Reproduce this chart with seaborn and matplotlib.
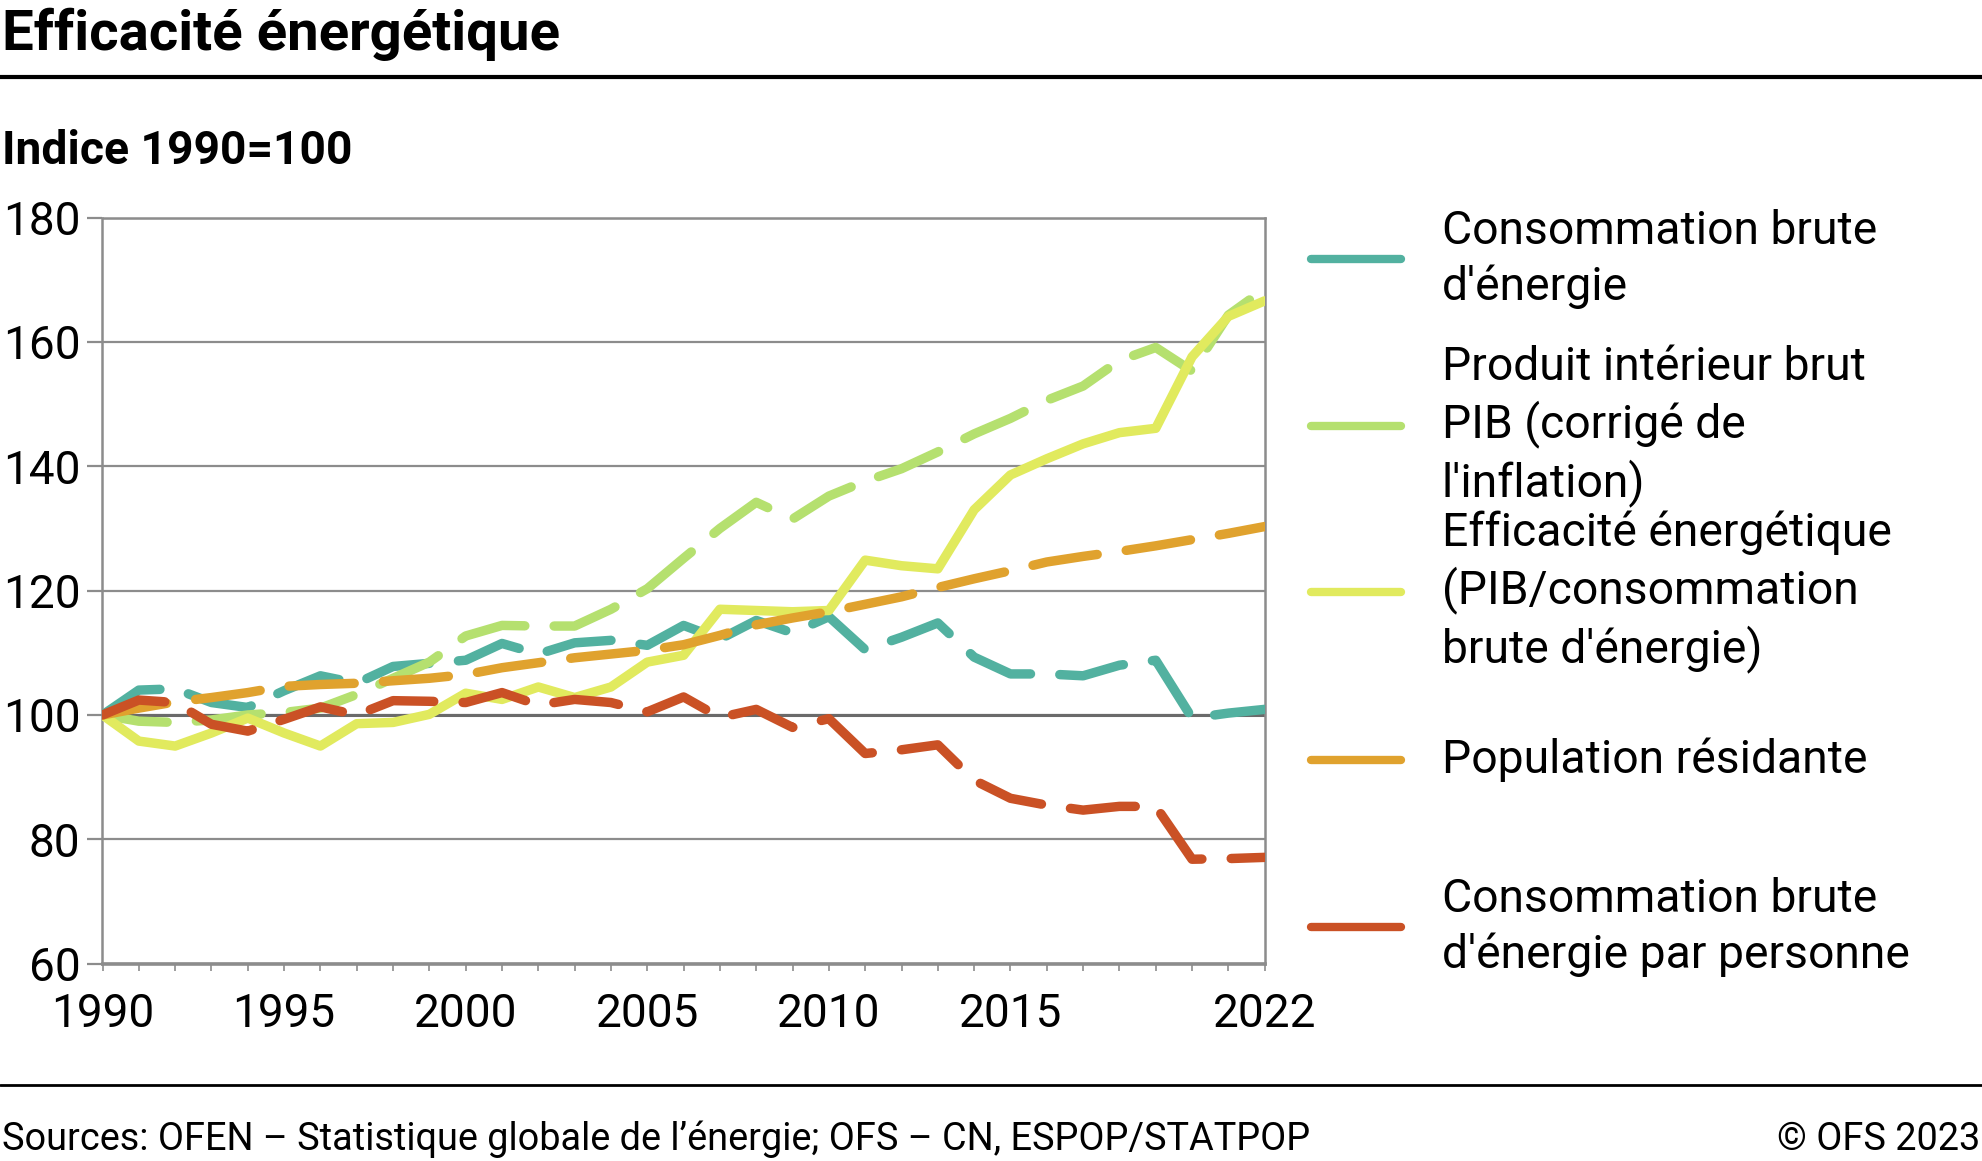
import numpy as np
import pandas as pd
import matplotlib
matplotlib.use("Agg")
import matplotlib.pyplot as plt
import seaborn as sns
from matplotlib.lines import Line2D
from matplotlib.ticker import FixedLocator, MultipleLocator

# values (index 1990 = 100)
years = list(range(1990, 2023))
conso = [100.0, 104.0, 104.2, 102.0, 101.2, 103.9, 106.3, 105.1, 107.8, 108.3,
         108.8, 111.5, 109.8, 111.6, 112.0, 111.2, 114.4, 112.2, 115.2, 113.2,
         115.8, 110.5, 112.5, 114.8, 109.3, 106.6, 106.6, 106.3, 108.0, 108.8,
         99.5, 100.3, 100.9]
pib = [100.0, 99.0, 98.8, 99.2, 100.0, 100.4, 101.1, 103.3, 105.9, 108.5,
       112.7, 114.4, 114.3, 114.3, 117.0, 120.3, 125.2, 130.0, 134.2, 131.5,
       135.2, 137.6, 139.6, 142.3, 145.2, 147.7, 150.6, 152.9, 157.0, 159.1,
       155.3, 164.3, 168.5]
efficacite = [100.0, 95.8, 95.0, 97.1, 99.5, 97.1, 95.0, 98.6, 98.8, 100.1,
              103.5, 102.5, 104.5, 102.8, 104.5, 108.5, 109.6, 117.0, 116.8, 116.6,
              116.8, 124.9, 124.0, 123.5, 133.0, 138.6, 141.2, 143.6, 145.4, 146.1,
              157.6, 164.1, 166.6]
population = [100.0, 101.1, 102.1, 102.8, 103.6, 104.6, 104.9, 105.1, 105.5, 105.9,
              106.5, 107.6, 108.4, 109.2, 109.8, 110.4, 111.3, 112.8, 114.5, 115.6,
              116.6, 117.8, 119.0, 120.5, 121.9, 123.2, 124.6, 125.5, 126.3, 127.2,
              128.2, 129.2, 130.3]
conso_pers = [100.0, 102.4, 102.0, 98.5, 97.4, 99.3, 101.3, 100.0, 102.3, 102.2,
              102.0, 103.6, 101.6, 102.5, 102.0, 100.5, 102.9, 99.6, 100.9, 98.0,
              99.4, 93.8, 94.4, 95.2, 89.5, 86.6, 85.5, 84.7, 85.3, 85.3,
              76.8, 76.9, 77.1]

series = ["Consommation brute\nd'énergie",
          "Produit intérieur brut\nPIB (corrigé de\nl'inflation)",
          "Efficacité énergétique\n(PIB/consommation\nbrute d'énergie)",
          "Population résidante",
          "Consommation brute\nd'énergie par personne"]
colors = ["#52B1A0", "#B5E06F", "#E1EA5E", "#E0A22E", "#CA5125"]
dash = (6.9, 3.1)
styles = [dash, dash, "", dash, dash]
xlabels = [1990, 1995, 2000, 2005, 2010, 2015, 2022]

df = pd.DataFrame({
    "annee": years * 5,
    "indice": conso + pib + efficacite + population + conso_pers,
    "serie": np.repeat(series, len(years)),
})

sns.set_theme(style="white")
plt.rcParams['font.family'] = ['Roboto', 'DejaVu Sans']
plt.rcParams['text.color'] = 'black'

W, H = 1983, 1161
fig = plt.figure(figsize=(W / 100, H / 100), dpi=100)
ax = fig.add_axes([102.5 / W, 1 - 963.7 / H, (1264.7 - 102.5) / W, (963.7 - 217.5) / H])

grey = "#8C8C8C"
ax.axhline(100, color="#6A6A6A", lw=2.2, zorder=1.5)
sns.lineplot(data=df, x="annee", y="indice", hue="serie", style="serie",
             hue_order=series, style_order=series,
             palette=dict(zip(series, colors)), dashes=dict(zip(series, styles)),
             lw=6.8, legend=False, ax=ax, zorder=3,
             solid_capstyle="round", dash_capstyle="round")

ax.set_xlim(1990, 2022)
ax.set_ylim(60, 180)
ax.yaxis.set_major_locator(MultipleLocator(20))
ax.xaxis.set_major_locator(FixedLocator(xlabels))
ax.xaxis.set_minor_locator(MultipleLocator(1))
ax.yaxis.grid(True, color=grey, lw=1.6)
ax.set_axisbelow(True)
ax.set_xlabel("")
ax.set_ylabel("")
for side in ["left", "right", "top"]:
    ax.spines[side].set_color(grey)
    ax.spines[side].set_linewidth(1.8)
ax.spines["bottom"].set_color(grey)
ax.spines["bottom"].set_linewidth(2.6)
ax.tick_params(axis="y", left=True, length=11, width=1.6, color=grey, pad=5,
               labelsize=33, labelcolor="black")
ax.tick_params(axis="x", which="both", bottom=True, length=5, width=1.2, color=grey,
               pad=15.5, labelsize=33, labelcolor="black")

# legend drawn by hand: solid handles, labels centred on them
hx0, hx1, tx = 1311 / W, 1401 / W, 1442 / W
ycent = [259, 426, 592, 760, 927]
for name, col, yc in zip(series, colors, ycent):
    fy = 1 - yc / H
    fig.add_artist(Line2D([hx0, hx1], [fy, fy], color=col, lw=6, solid_capstyle="round"))
    fig.text(tx, fy, name, fontsize=33.3, va="center", ha="left", linespacing=1.3)

fig.text(0.001, 1 - 50 / H, "Efficacité énergétique", fontsize=40.6, fontweight="bold",
         va="baseline")
fig.add_artist(Line2D([0, 1], [1 - 77 / H] * 2, color="black", lw=3))
fig.text(0.001, 1 - 164 / H, "Indice 1990=100", fontsize=33.3, fontweight="bold",
         va="baseline")
fig.add_artist(Line2D([0, 1], [1 - 1085 / H] * 2, color="black", lw=2))
fig.text(0.001, 1 - 1150 / H,
         "Sources: OFEN – Statistique globale de l’énergie; OFS – CN, ESPOP/STATPOP",
         fontsize=27.3, va="baseline")
fig.text(0.9985, 1 - 1150 / H, "© OFS 2023", fontsize=27.3, va="baseline", ha="right")

fig.savefig("out.png", dpi=100)
